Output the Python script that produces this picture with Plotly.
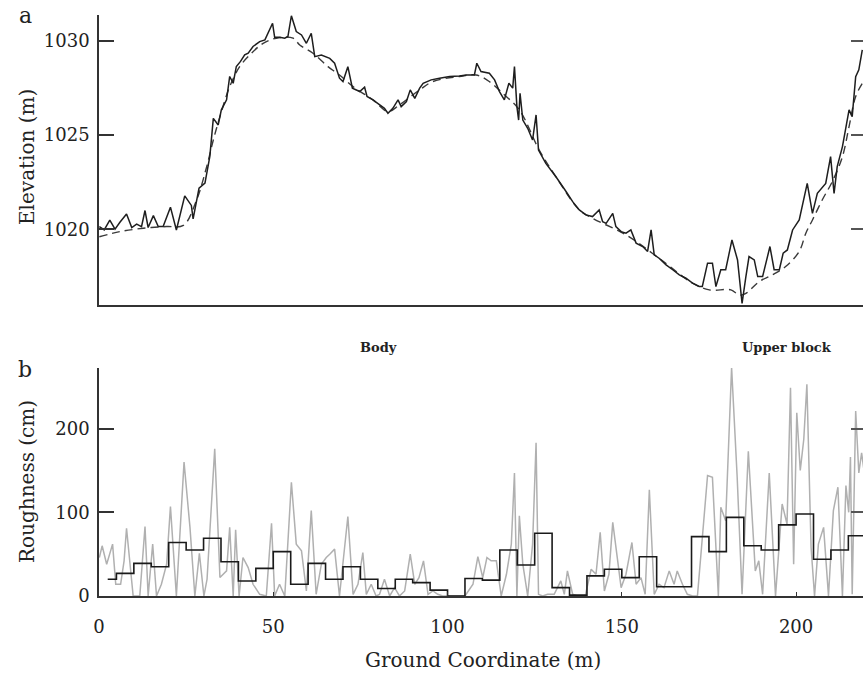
import plotly.graph_objects as go

# ---------------- data ----------------
# Panel a: measured elevation profile (m) vs ground coordinate (m)
elev_x = [0.1, 1.5, 3.1, 4.6, 6.0, 7.9, 9.4, 10.8, 12.2, 13.2, 14.1, 15.6, 17.0, 18.4, 20.5, 22.2,
          24.6, 26.5, 27.0, 28.7, 30.4, 31.8, 32.8, 34.2, 35.1, 36.6, 37.5, 38.5, 39.4, 40.6, 41.8,
          42.8, 44.2, 46.1, 47.6, 48.5, 49.8, 50.4, 51.8, 53.3, 54.2, 55.2, 56.6, 58.1, 59.5, 60.9,
          61.9, 63.8, 66.2, 67.6, 69.0, 70.0, 71.4, 72.7, 74.8, 76.2, 76.9, 78.6, 80.5, 81.9, 82.9,
          84.3, 85.8, 86.7, 88.2, 89.3, 90.6, 92.0, 93.0, 95.3, 97.7, 100.6, 103.4, 105.4, 107.7,
          108.4, 109.6, 112.0, 113.5, 114.9, 116.3, 117.6, 118.7, 119.2, 119.9, 120.4, 120.8, 121.6,
          123.0, 124.4, 125.4, 126.1, 128.2, 131.1, 134.0, 135.9, 137.8, 139.7, 141.6, 143.5, 144.5,
          145.5, 147.4, 148.3, 149.8, 151.2, 152.6, 154.1, 156.0, 157.4, 158.4, 159.3, 160.7, 162.7,
          164.6, 166.5, 168.4, 170.3, 172.2, 173.1, 174.6, 176.0, 177.0, 178.4, 179.8, 181.6, 183.2,
          184.5, 185.6, 186.5, 188.0, 189.0, 190.4, 192.5, 193.7, 195.2, 196.3, 197.5, 199.0, 200.9,
          203.2, 204.7, 206.1, 208.5, 209.9, 210.9, 211.8, 213.3, 214.0, 215.2, 216.1, 217.1, 218.0,
          219.0]
elev_y = [1020.14, 1019.96, 1020.48, 1020.0, 1020.37, 1020.81, 1020.09, 1020.27, 1020.14, 1020.99,
          1020.09, 1020.72, 1020.14, 1020.14, 1021.17, 1019.96, 1021.77, 1021.26, 1020.55, 1022.18,
          1022.44, 1023.86, 1025.88, 1025.53, 1026.33, 1026.86, 1028.1, 1027.74, 1028.63, 1028.9,
          1029.25, 1029.34, 1029.69, 1029.95, 1030.04, 1030.4, 1030.92, 1030.18, 1030.18, 1030.13,
          1030.22, 1031.32, 1030.48, 1030.30, 1029.86, 1030.39, 1029.15, 1029.24, 1029.06, 1028.80,
          1028.01, 1027.83, 1028.62, 1027.48, 1027.30, 1027.53, 1027.04, 1026.86, 1026.59, 1026.41,
          1026.15, 1026.41, 1026.86, 1026.50, 1026.77, 1027.39, 1026.94, 1027.48, 1027.74, 1027.92,
          1028.01, 1028.10, 1028.13, 1028.18, 1028.18, 1028.80, 1028.36, 1028.27, 1027.92, 1027.30,
          1026.86, 1027.74, 1027.48, 1028.62, 1026.50, 1025.79, 1027.21, 1025.79, 1025.35, 1024.73,
          1026.06, 1024.20, 1023.49, 1022.78, 1022.0, 1021.46, 1021.02, 1020.76, 1020.67, 1021.02,
          1020.40, 1020.31, 1020.84, 1020.14, 1019.87, 1019.79, 1019.96, 1019.26, 1019.08, 1018.82,
          1019.96, 1018.64, 1018.46, 1018.11, 1017.85, 1017.58, 1017.40, 1017.14, 1016.96, 1016.96,
          1018.20, 1018.20, 1016.96, 1017.85, 1017.85, 1019.43, 1018.37, 1016.07, 1017.49, 1018.55,
          1018.37, 1017.49, 1017.49, 1019.08, 1017.85, 1017.85, 1018.73, 1018.90, 1019.96, 1020.49,
          1022.43, 1020.84, 1021.90, 1022.43, 1023.85, 1021.90, 1023.32, 1024.38, 1025.09, 1026.33,
          1025.97, 1028.09, 1028.45, 1029.51]

# Panel a: smoothed elevation (dashed)
smooth_x = [0.1, 6.0, 12.7, 19.4, 24.2, 28.0, 30.9, 32.8, 34.7, 37.5, 40.4, 43.3, 47.1, 50.9, 55.7,
            57.6, 61.4, 65.7, 69.0, 72.9, 78.6, 82.9, 86.2, 92.0, 95.8, 103.4, 108.2, 112.0, 115.8,
            120.6, 126.3, 131.1, 137.8, 141.6, 151.2, 160.7, 170.3, 175.1, 181.3, 183.7, 185.6,
            189.4, 193.2, 197.0, 200.9, 202.8, 204.7, 207.5, 210.4, 213.3, 215.2, 217.1, 219.0]
smooth_y = [1019.6, 1019.87, 1020.05, 1020.14, 1020.2, 1021.55, 1023.32, 1024.73, 1025.97, 1027.56,
            1028.63, 1029.25, 1029.86, 1030.13, 1030.13, 1029.77, 1029.33, 1028.62, 1028.18, 1027.56,
            1026.86, 1026.24, 1026.59, 1027.39, 1027.83, 1028.10, 1028.18, 1027.83, 1027.21, 1026.33,
            1024.20, 1022.78, 1021.02, 1020.58, 1019.70, 1018.46, 1017.14, 1016.78, 1016.78, 1016.51,
            1016.60, 1017.22, 1017.58, 1018.02, 1018.82, 1019.79, 1020.49, 1021.55, 1022.53, 1023.85,
            1025.44, 1027.04, 1027.74]

# Panel b: roughness (cm), raw (grey)
rough_x = [0.1, 0.9, 2.2, 3.9, 4.8, 6.2, 7.2, 7.9, 9.8, 11.7, 13.2, 14.1, 15.4, 16.5, 17.9, 19.4,
           20.5, 22.2, 24.4, 26.1, 27.5, 28.8, 30.1, 31.0, 33.2, 34.7, 36.6, 37.5, 38.5, 39.2, 40.2,
           41.3, 42.8, 44.2, 46.1, 48.0, 49.5, 50.4, 51.8, 53.3, 55.2, 56.6, 58.1, 59.5, 60.9, 62.3,
           63.8, 65.2, 66.2, 67.6, 69.0, 70.0, 71.4, 72.9, 74.3, 75.7, 76.7, 78.1, 79.5, 80.5, 81.9,
           83.4, 84.8, 86.2, 87.7, 89.3, 90.6, 91.8, 93.1, 94.4, 95.8, 97.2, 98.6, 105.0, 107.3,
           108.7, 110.1, 111.3, 112.5, 114.0, 115.4, 116.9, 118.3, 119.2, 119.9, 120.6, 121.6, 123.0,
           124.4, 125.4, 126.1, 127.3, 128.7, 130.6, 132.5, 133.5, 134.4, 135.9, 137.3, 139.5, 141.2,
           142.6, 143.8, 145.0, 146.3, 147.4, 148.8, 149.8, 151.2, 152.9, 154.1, 155.5, 156.7, 157.9,
           159.3, 160.7, 162.1, 163.6, 165.0, 165.9, 167.4, 168.8, 170.3, 171.7, 174.6, 176.0, 177.7,
           178.4, 179.8, 181.5, 183.1, 184.5, 186.3, 187.4, 188.3, 189.3, 190.4, 192.3, 194.1, 196.0,
           197.4, 198.4, 199.3, 200.2, 201.2, 202.2, 203.1, 204.3, 205.3, 206.4, 207.9, 209.3, 210.7,
           212.0, 213.3, 214.3, 215.1, 215.6, 216.1, 217.1, 218.0, 218.8, 219.5]
rough_y = [46, 60, 38, 62, 14, 14, 42, 81, 0, 0, 83, 0, 62, 0, 14, 38,
           107, 0, 160, 82, 0, 51, 0, 20, 176, 22, 30, 82, 0, 79, 0,
           46, 34, 14, 2, 0, 87, 0, 14, 0, 136, 62, 54, 6, 102, 2,
           38, 46, 50, 56, 0, 38, 95, 2, 14, 52, 2, 14, 0, 2, 20,
           0, 10, 0, 6, 50, 14, 22, 42, 2, 6, 2, 0, 0, 14,
           47, 22, 46, 42, 42, 0, 26, 62, 147, 0, 96, 38, 0,
           62, 183, 2, 0, 2, 2, 18, 2, 30, 2, 0, 0, 32,
           26, 76, 6, 26, 88, 38, 10, 26, 64, 14, 22, 2, 127,
           2, 14, 10, 30, 14, 30, 14, 2, 0, 0, 144, 142, 0,
           106, 90, 273, 142, 2, 173, 102, 30, 42, 2, 147, 0, 110,
           86, 249, 38, 219, 150, 187, 253, 58, 0, 62, 82, 0, 102,
           130, 0, 132, 100, 166, 2, 221, 147, 171, 150]

# Panel b: binned mean roughness (black step line)
bin_edges = [2.5, 5, 10, 15, 20, 25, 30, 35, 40, 45, 50, 55, 60, 65, 70, 75, 80, 85, 90, 95, 100,
             105, 110, 115, 120, 125, 130, 135, 140, 145, 150, 155, 160, 165, 170, 175, 180, 185,
             190, 195, 200, 205, 210, 215, 220]
bin_means = [20, 27, 39, 35, 64, 55, 69, 41, 18, 33, 53, 14, 39, 20, 35, 20, 9, 20, 16, 7, 0,
             21, 19, 55, 37, 75, 10, 1, 24, 32, 22, 47, 11, 11, 71, 53, 94, 60, 55, 85, 98, 44,
             55, 72]

elev_ticks = [1020, 1025, 1030]
rough_ticks = [0, 100, 200]
x_ticks = [0, 50, 100, 150, 200]

# ---------------- figure ----------------
W, H = 863, 675
FONT = "DejaVu Serif"
AX = "#333333"

def px_x(p):
    return p / W

def px_y(p):
    return 1 - p / H

xdom = [px_x(99), 1.0]
ydom_a = [px_y(305), px_y(15)]
ydom_b = [px_y(596), px_y(368)]
XR = [0, 219.2]

fig = go.Figure()

fig.add_trace(go.Scatter(x=smooth_x, y=smooth_y, mode="lines", line_shape="spline",
                         line=dict(color="#3a3a3a", width=1.4, dash="8px,5px"),
                         xaxis="x", yaxis="y", showlegend=False))
fig.add_trace(go.Scatter(x=elev_x, y=elev_y, mode="lines",
                         line=dict(color="#1e1e1e", width=1.5),
                         xaxis="x", yaxis="y", showlegend=False))
fig.add_trace(go.Scatter(x=rough_x, y=rough_y, mode="lines",
                         line=dict(color="#b0b0b0", width=1.5),
                         xaxis="x2", yaxis="y2", showlegend=False))
fig.add_trace(go.Scatter(x=bin_edges, y=bin_means + [bin_means[-1]], mode="lines",
                         line_shape="hv", line=dict(color="#1a1a1a", width=1.6),
                         xaxis="x2", yaxis="y2", showlegend=False))
# invisible traces for right-hand tick axes
fig.add_trace(go.Scatter(x=[None], y=[None], xaxis="x", yaxis="y3", showlegend=False))
fig.add_trace(go.Scatter(x=[None], y=[None], xaxis="x2", yaxis="y4", showlegend=False))

tickfont = dict(family=FONT, size=18, color="#222222")

common = dict(automargin=False, showgrid=False, zeroline=False)

fig.update_layout(
    width=W, height=H,
    margin=dict(l=0, r=0, t=0, b=0),
    paper_bgcolor="white", plot_bgcolor="white",
    showlegend=False,
    xaxis=dict(domain=xdom, range=XR, anchor="y", showline=True, linecolor=AX, linewidth=1.5,
               ticks="", showticklabels=False, **common),
    yaxis=dict(domain=ydom_a, range=[1015.98, 1031.36], anchor="x", showline=True, linecolor=AX,
               linewidth=1.5, ticks="inside", ticklen=15,
               tickwidth=1.5, tickcolor=AX, tickvals=elev_ticks, tickfont=tickfont,
               ticklabelstandoff=4, **common),
    yaxis3=dict(domain=ydom_a, range=[1015.98, 1031.36], overlaying="y", side="right",
                anchor="x", showline=False, ticks="inside",
                ticklen=12, tickwidth=1.5, tickcolor="#555555", tickvals=elev_ticks,
                showticklabels=False, **common),
    xaxis2=dict(domain=xdom, range=XR, anchor="y2", showline=True, linecolor=AX, linewidth=1.5,
                ticks="inside", ticklen=4, tickwidth=1.2,
                tickcolor=AX, tickvals=x_ticks, tickfont=tickfont, ticklabelstandoff=14,
                **common),
    yaxis2=dict(domain=ydom_b, range=[0, 272.5], anchor="x2", showline=True, linecolor=AX,
                linewidth=1.5, ticks="inside", ticklen=15,
                tickwidth=1.5, tickcolor=AX, tickvals=rough_ticks, tickfont=tickfont,
                ticklabelstandoff=4, **common),
    yaxis4=dict(domain=ydom_b, range=[0, 272.5], overlaying="y2", side="right",
                anchor="x2", showline=False, ticks="inside",
                ticklen=12, tickwidth=1.5, tickcolor="#555555", tickvals=rough_ticks,
                showticklabels=False, **common),
)

ann = []
def add_text(text, x, y, size, angle=0, bold=False):
    ann.append(dict(text=("<b>%s</b>" % text) if bold else text, x=px_x(x), y=px_y(y),
                    xref="paper", yref="paper", showarrow=False, textangle=angle,
                    xanchor="center", yanchor="middle",
                    font=dict(family=FONT, size=size, color="#222222")))

add_text("a", 25, 15, 22)
add_text("b", 25, 369, 22)
add_text("Elevation (m)", 27, 157, 20, angle=-90)
add_text("Roughness (cm)", 27, 482, 20, angle=-90)
add_text("Ground Coordinate (m)", 483, 660, 20)
add_text("Body", 378, 347, 13, bold=True)
add_text("Upper block", 787, 347, 13, bold=True)
fig.update_layout(annotations=ann)

# remove the default page margin so the 863x675 figure fills the window exactly
fig.write_html("out.html",
               config={"displayModeBar": False},
               post_script="document.body.style.margin='0';document.body.style.padding='0';"
                           "document.body.style.overflow='hidden';")
